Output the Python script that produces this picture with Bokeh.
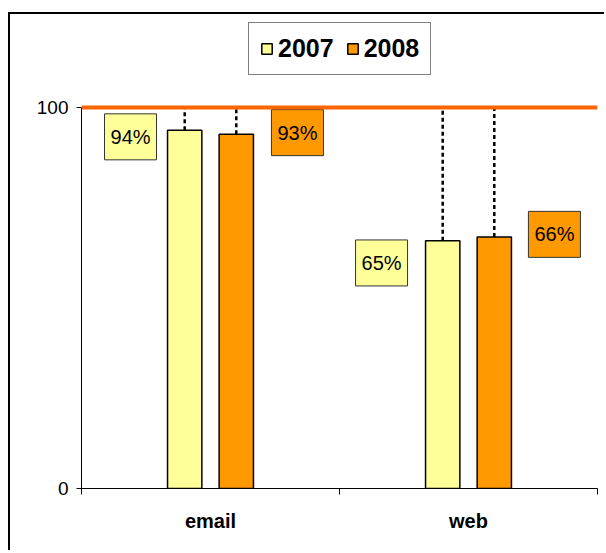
from bokeh.plotting import figure
from bokeh.models import (Range1d, FixedTicker, Span, Legend, LegendItem)
from bokeh.core.properties import value
from bokeh.embed import file_html
from bokeh.resources import INLINE

# ---- data ----
CATEGORIES = ["email", "web"]
SERIES = ["2007", "2008"]
VALUES_2007 = [94, 65]
VALUES_2008 = [93, 66]
TARGET = 100
Y_TICKS = [0, 100]

# ---- style / layout ----
FONT = "Liberation Sans"
COL_2007 = "#FFFF99"
COL_2008 = "#FF9900"
LINE_COL = "#FF6600"
BAR_OFFSET = 0.1
BAR_WIDTH = 0.133
# label placement relative to bar centre/top (x in category units, y in value units)
LBL_DX_2007 = [-0.21, -0.237]
LBL_DY_2007 = [-1.7, -5.8]
LBL_DX_2008 = [0.237, 0.233]
LBL_DY_2008 = [0.4, 0.7]

W, H = 596, 538
FRAME_BOTTOM = 64
FRAME_H = H - FRAME_BOTTOM
PX_PER_100 = 381.0
y_end = TARGET * FRAME_H / PX_PER_100

p = figure(width=W, height=H, output_backend="svg", toolbar_location=None,
           x_range=Range1d(0, len(CATEGORIES)), y_range=Range1d(0, y_end),
           min_border_left=71, min_border_right=9, min_border_top=0,
           min_border_bottom=FRAME_BOTTOM)
p.styles = {"margin-left": "8px", "margin-top": "12px",
            "border-left": "2px solid black", "border-top": "2px solid black"}
p.outline_line_color = None
p.background_fill_color = "white"
p.border_fill_color = "white"
p.xgrid.visible = False
p.ygrid.visible = False

xs_2007 = [i + 0.5 - BAR_OFFSET for i in range(len(CATEGORIES))]
xs_2008 = [i + 0.5 + BAR_OFFSET for i in range(len(CATEGORIES))]

# drop lines from bar tops to target
p.segment(x0=xs_2007, y0=VALUES_2007, x1=xs_2007, y1=[TARGET] * len(CATEGORIES),
          line_color="black", line_width=2.5, line_dash="4 3")
p.segment(x0=xs_2008, y0=VALUES_2008, x1=xs_2008, y1=[TARGET] * len(CATEGORIES),
          line_color="black", line_width=2.5, line_dash="4 3")

r07 = p.vbar(x=xs_2007, top=VALUES_2007, width=BAR_WIDTH, bottom=0,
             fill_color=COL_2007, line_color="black", line_width=1.5)
r08 = p.vbar(x=xs_2008, top=VALUES_2008, width=BAR_WIDTH, bottom=0,
             fill_color=COL_2008, line_color="black", line_width=1.5)

p.add_layout(Span(location=TARGET, dimension="width", line_color=LINE_COL,
                  line_width=4))

# value label boxes
def labels(xs, vals, dxs, dys, fill):
    lx = [x + d for x, d in zip(xs, dxs)]
    ly = [v + d for v, d in zip(vals, dys)]
    p.rect(x=lx, y=ly, width=52, height=46, width_units="screen",
           height_units="screen", fill_color=fill, line_color="#333333",
           line_width=1)
    p.text(x=lx, y=ly, text=[f"{v}%" for v in vals], text_align="center",
           text_baseline="middle", text_font=value(FONT),
           text_font_size="20px", text_color="black")

labels(xs_2007, VALUES_2007, LBL_DX_2007, LBL_DY_2007, COL_2007)
labels(xs_2008, VALUES_2008, LBL_DX_2008, LBL_DY_2008, COL_2008)

# axes
xa = p.xaxis[0]
xa.ticker = FixedTicker(ticks=[i + 0.5 for i in range(len(CATEGORIES))],
                        minor_ticks=list(range(len(CATEGORIES) + 1)))
xa.major_label_overrides = {i + 0.5: c for i, c in enumerate(CATEGORIES)}
xa.major_tick_line_color = None
xa.major_tick_out = 0
xa.minor_tick_in = 0
xa.minor_tick_out = 6
xa.minor_tick_line_color = "black"
xa.axis_line_color = "black"
xa.axis_line_width = 1
xa.major_label_text_font = FONT
xa.major_label_text_font_style = "bold"
xa.major_label_text_font_size = "20px"
xa.major_label_text_color = "black"
xa.major_label_standoff = 15

ya = p.yaxis[0]
ya.ticker = FixedTicker(ticks=Y_TICKS, minor_ticks=[])
ya.bounds = (0, TARGET)
ya.major_tick_in = 0
ya.major_tick_out = 5
ya.minor_tick_line_color = None
ya.axis_line_color = "black"
ya.major_label_text_font = FONT
ya.major_label_text_font_size = "19px"
ya.major_label_text_color = "black"
ya.major_label_standoff = 8

legend = Legend(items=[LegendItem(label=SERIES[0], renderers=[r07]),
                       LegendItem(label=SERIES[1], renderers=[r08])],
                location=(167, 413), orientation="horizontal",
                border_line_color="black", border_line_width=1,
                label_text_font=FONT, label_text_font_style="bold",
                label_text_font_size="25px", label_text_color="black",
                glyph_width=13, glyph_height=13,
                label_standoff=5, spacing=12, padding=11, margin=0,
                background_fill_alpha=1.0)
p.add_layout(legend)

open("out.html", "w").write(file_html(p, INLINE))
